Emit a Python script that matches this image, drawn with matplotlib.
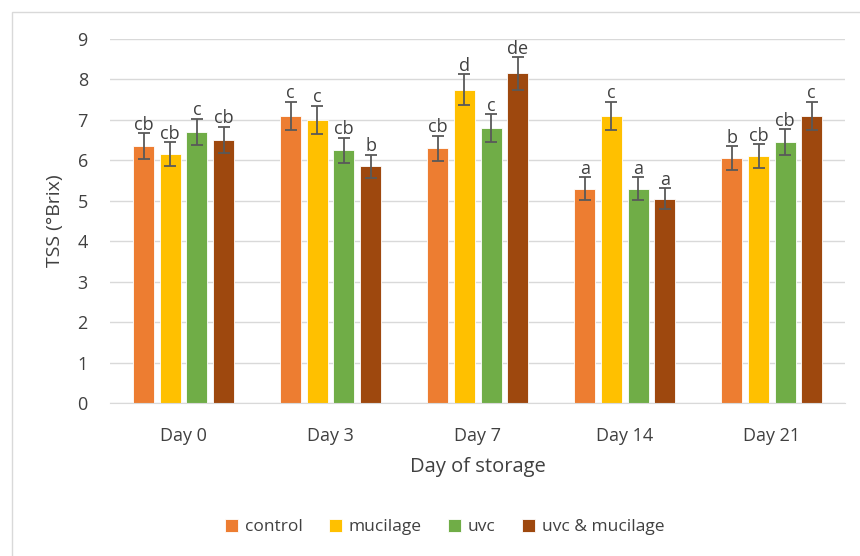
import numpy as np
import matplotlib.pyplot as plt
from matplotlib.patches import Rectangle

# ---------------- DATA ----------------
days = ["Day 0", "Day 3", "Day 7", "Day 14", "Day 21"]
treatments = ["control", "mucilage", "uvc", "uvc & mucilage"]
colors = ["#ED7D31", "#FFC000", "#70AD47", "#9E480E"]

control = [6.35, 7.1, 6.3, 5.3, 6.05]
mucilage = [6.15, 7.0, 7.75, 7.1, 6.1]
uvc = [6.7, 6.25, 6.8, 5.3, 6.45]
uvc_mucilage = [6.5, 5.85, 8.15, 5.05, 7.1]

control_err = [0.32, 0.35, 0.31, 0.28, 0.3]
mucilage_err = [0.3, 0.35, 0.38, 0.35, 0.3]
uvc_err = [0.33, 0.31, 0.34, 0.28, 0.32]
uvc_mucilage_err = [0.33, 0.29, 0.4, 0.26, 0.35]

control_lbl = ["cb", "c", "cb", "a", "b"]
mucilage_lbl = ["cb", "c", "d", "c", "cb"]
uvc_lbl = ["c", "cb", "c", "a", "cb"]
uvc_mucilage_lbl = ["cb", "b", "de", "a", "c"]

values = [control, mucilage, uvc, uvc_mucilage]
errors = [control_err, mucilage_err, uvc_err, uvc_mucilage_err]
letters = [control_lbl, mucilage_lbl, uvc_lbl, uvc_mucilage_lbl]

# ---------------- PLOT ----------------
plt.rcParams['font.family'] = ['Open Sans', 'DejaVu Sans']
txt = "#404040"

fig = plt.figure(figsize=(8.6, 5.56), dpi=100)
fig.patches.append(Rectangle((12 / 860, -0.01), 1.0, 1 - 12 / 556 + 0.01,
                             transform=fig.transFigure, fill=False,
                             edgecolor="#D9D9D9", linewidth=1))
ax = fig.add_axes([0.128, 0.275, 0.855, 0.655])

x = np.arange(len(days))
width = 0.143
step = 0.181
for i, (vals, errs, lbls) in enumerate(zip(values, errors, letters)):
    pos = x + (i - 1.5) * step
    ax.bar(pos, vals, width, color=colors[i], label=treatments[i],
           edgecolor="white", linewidth=0.6, zorder=2)
    ax.errorbar(pos, vals, yerr=errs, fmt="none", ecolor="#595959",
                elinewidth=1.3, capsize=4, capthick=1.3, zorder=3)
    for p, v, e, l in zip(pos, vals, errs, lbls):
        ax.text(p, v + e - 0.01, l, ha="center", va="bottom",
                fontsize=13, color=txt)

ax.set_ylim(0, 9)
ax.set_xlim(-0.5, len(days) - 0.5)
ax.set_yticks(range(10))
ax.set_xticks(x)
ax.set_xticklabels(days)
ax.tick_params(axis="both", length=0, labelsize=13, labelcolor=txt)
ax.tick_params(axis="y", pad=16)
ax.tick_params(axis="x", pad=17)
ax.grid(axis="y", color="#D9D9D9", linewidth=1, zorder=0)
ax.set_axisbelow(True)
for s in ["top", "right", "left"]:
    ax.spines[s].set_visible(False)
ax.spines["bottom"].set_color("#D9D9D9")

ax.set_ylabel("TSS (°Brix)", fontsize=14, color=txt, labelpad=10)
ax.set_xlabel("Day of storage", fontsize=14.5, color=txt, labelpad=9)

fig.legend(loc="center", bbox_to_anchor=(0.517, 0.052), ncol=4, frameon=False,
           fontsize=12.5, labelcolor=txt, handlelength=0.75, handleheight=0.75,
           handletextpad=0.4, columnspacing=1.5)

fig.savefig("out.png", dpi=100)
